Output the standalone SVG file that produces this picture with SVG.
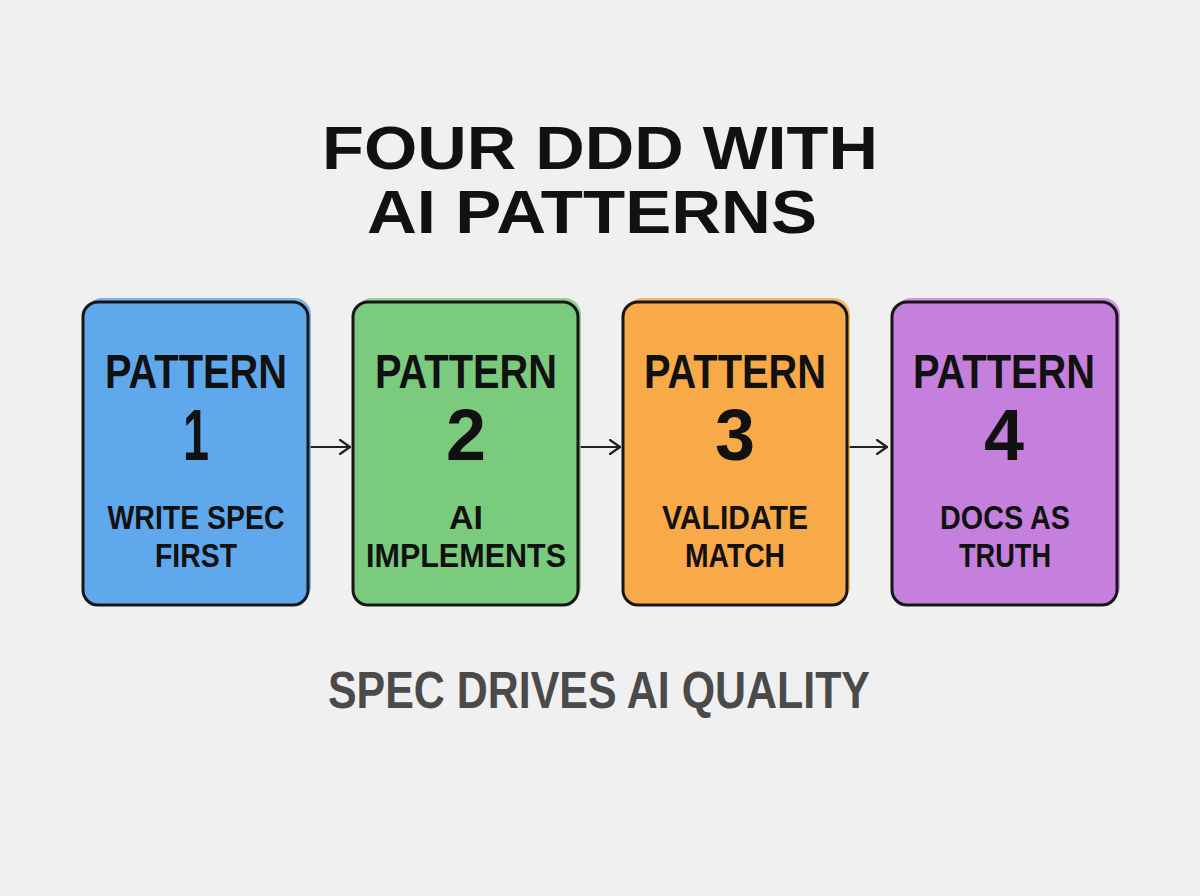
<svg xmlns="http://www.w3.org/2000/svg" width="1200" height="896" viewBox="0 0 1200 896">
<defs>
<style>
.t{font-family:"Liberation Sans",Arial,sans-serif;font-weight:bold;fill:#111;text-anchor:middle}
.box{stroke:#161616;stroke-width:3}
.conn{stroke:#222;stroke-width:2.2;fill:none;stroke-linecap:round;stroke-linejoin:round}
</style>
<marker id="ah" viewBox="0 0 12 16" refX="11" refY="8" markerWidth="12" markerHeight="16" markerUnits="userSpaceOnUse" orient="auto">
<path d="M1,1 L11,8 L1,15" fill="none" stroke="#222" stroke-width="2.2" stroke-linecap="round" stroke-linejoin="round"/>
</marker>
</defs>
<rect width="1200" height="896" fill="#f0f0f0"/>
<g id="title">
<text class="t" x="600" y="169" font-size="62" textLength="556" lengthAdjust="spacingAndGlyphs">FOUR DDD WITH</text>
<text class="t" x="592" y="233" font-size="62" textLength="450" lengthAdjust="spacingAndGlyphs">AI PATTERNS</text>
</g>
<g id="connectors">
<line class="conn" x1="309" y1="447" x2="350" y2="447" marker-end="url(#ah)"/>
<line class="conn" x1="579" y1="447" x2="620" y2="447" marker-end="url(#ah)"/>
<line class="conn" x1="848" y1="447" x2="887" y2="447" marker-end="url(#ah)"/>
</g>
<g id="node1">
<rect x="86" y="298" width="225" height="304" rx="16" fill="#5fa8ec" opacity="0.8"/>
<rect class="box" x="83" y="302" width="225" height="303" rx="15" fill="#5fa8ec"/>
<text class="t" x="196" y="388" font-size="48" textLength="182" lengthAdjust="spacingAndGlyphs">PATTERN</text>
<text class="t" x="196" y="460" font-size="72" textLength="26" lengthAdjust="spacingAndGlyphs">1</text>
<text class="t" x="196" y="529" font-size="34" textLength="177" lengthAdjust="spacingAndGlyphs">WRITE SPEC</text>
<text class="t" x="196" y="567" font-size="34" textLength="82" lengthAdjust="spacingAndGlyphs">FIRST</text>
</g>
<g id="node2">
<rect x="356" y="298" width="225" height="304" rx="16" fill="#7acb7e" opacity="0.8"/>
<rect class="box" x="353" y="302" width="225" height="303" rx="15" fill="#7acb7e"/>
<text class="t" x="466" y="388" font-size="48" textLength="182" lengthAdjust="spacingAndGlyphs">PATTERN</text>
<text class="t" x="466" y="460" font-size="72" textLength="40" lengthAdjust="spacingAndGlyphs">2</text>
<text class="t" x="466" y="529" font-size="34" textLength="34" lengthAdjust="spacingAndGlyphs">AI</text>
<text class="t" x="466" y="567" font-size="34" textLength="200" lengthAdjust="spacingAndGlyphs">IMPLEMENTS</text>
</g>
<g id="node3">
<rect x="626" y="298" width="224" height="304" rx="16" fill="#f9aa48" opacity="0.8"/>
<rect class="box" x="623" y="302" width="224" height="303" rx="15" fill="#f9aa48"/>
<text class="t" x="735" y="388" font-size="48" textLength="182" lengthAdjust="spacingAndGlyphs">PATTERN</text>
<text class="t" x="735" y="460" font-size="72" textLength="40" lengthAdjust="spacingAndGlyphs">3</text>
<text class="t" x="735" y="529" font-size="34" textLength="146" lengthAdjust="spacingAndGlyphs">VALIDATE</text>
<text class="t" x="735" y="567" font-size="34" textLength="100" lengthAdjust="spacingAndGlyphs">MATCH</text>
</g>
<g id="node4">
<rect x="895" y="298" width="225" height="304" rx="16" fill="#c57fdc" opacity="0.8"/>
<rect class="box" x="892" y="302" width="225" height="303" rx="15" fill="#c57fdc"/>
<text class="t" x="1004" y="388" font-size="48" textLength="182" lengthAdjust="spacingAndGlyphs">PATTERN</text>
<text class="t" x="1004" y="460" font-size="72" textLength="40" lengthAdjust="spacingAndGlyphs">4</text>
<text class="t" x="1005" y="529" font-size="34" textLength="130" lengthAdjust="spacingAndGlyphs">DOCS AS</text>
<text class="t" x="1005" y="567" font-size="34" textLength="92" lengthAdjust="spacingAndGlyphs">TRUTH</text>
</g>
<g id="footer">
<text class="t" x="599" y="708" font-size="52" style="fill:#4a4a4a" textLength="542" lengthAdjust="spacingAndGlyphs">SPEC DRIVES AI QUALITY</text>
</g>
</svg>
